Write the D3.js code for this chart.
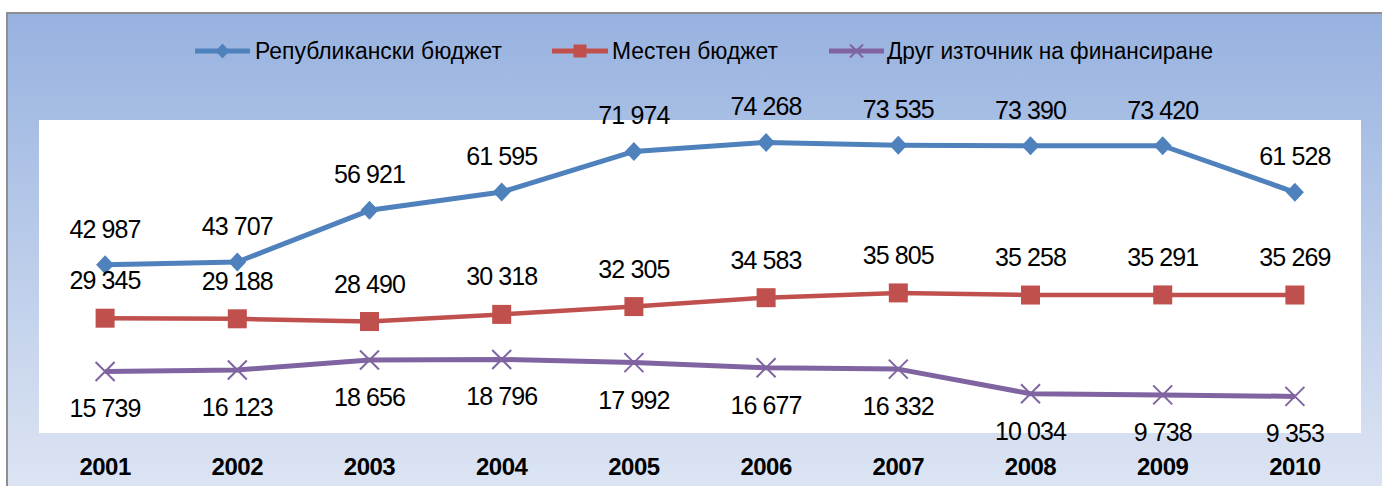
<!DOCTYPE html>
<html><head><meta charset="utf-8">
<script src="https://cdn.jsdelivr.net/npm/d3@7"></script>
<style>body{margin:0;background:#fff;} svg{display:block;font-family:Arial,"Liberation Sans",sans-serif;}</style>
</head><body>
<svg id="c" width="1382" height="486"></svg>
<script>
const years = ["2001","2002","2003","2004","2005","2006","2007","2008","2009","2010"];
const republican = [42987,43707,56921,61595,71974,74268,73535,73390,73420,61528];
const local = [29345,29188,28490,30318,32305,34583,35805,35258,35291,35269];
const other = [15739,16123,18656,18796,17992,16677,16332,10034,9738,9353];
const seriesNames = ["Републикански бюджет","Местен бюджет","Друг източник на финансиране"];
const colors = ["#4F81BD","#C0504D","#8064A2"];

const svg = d3.select("#c");
const defs = svg.append("defs");
const g = defs.append("linearGradient").attr("id","bg").attr("x1",0).attr("y1",0).attr("x2",0).attr("y2",1);
g.append("stop").attr("offset","0%").attr("stop-color","#97b2e0");
g.append("stop").attr("offset","50%").attr("stop-color","#bccdea");
g.append("stop").attr("offset","100%").attr("stop-color","#e0e7f4");

svg.append("rect").attr("x",7).attr("y",13).attr("width",1400).attr("height",500)
  .attr("fill","url(#bg)").attr("stroke","#8e8e8e").attr("stroke-width",2);

const plot = {left:39,right:1361,top:120,bottom:433};
svg.append("rect").attr("x",plot.left).attr("y",plot.top)
  .attr("width",plot.right-plot.left).attr("height",plot.bottom-plot.top).attr("fill","#fff");

const x = d3.scaleBand().domain(years).range([plot.left,plot.right]);
const y = d3.scaleLinear().domain([0,80000]).range([plot.bottom,plot.top]);
const cx = d => x(d)+x.bandwidth()/2;

const xa = svg.append("g").attr("transform",`translate(0,${plot.bottom})`)
  .call(d3.axisBottom(x).tickSize(0).tickPadding(0));
xa.select(".domain").remove();
xa.selectAll("text").attr("font-size",24).attr("font-weight","bold").attr("fill","#000")
  .attr("font-family","Arial,'Liberation Sans',sans-serif").attr("dy",null).attr("y",42)
  .style("letter-spacing","-0.5px");

const fmt = v => d3.format(",")(v).replace(/,/g," ");
const seriesData = [republican, local, other];
const labelOffsets = [-27,-29,46];
const lineWidths = [5,4.5,5];

const line = d3.line().x((d,i)=>cx(years[i])).y(d=>y(d));

function marker(sel, k, size){
  if(k===0){
    const w=size/2, h=size/2+0.5;
    sel.append("path").attr("d",`M0,${-h}L${w},0L0,${h}L${-w},0Z`).attr("fill",colors[0]);
  } else if(k===1){
    sel.append("rect").attr("x",-size/2).attr("y",-size/2).attr("width",size).attr("height",size).attr("fill",colors[1]);
  } else {
    const h=size/2;
    sel.append("path").attr("d",`M${-h},${-h}L${h},${h}M${-h},${h}L${h},${-h}`)
      .attr("stroke",colors[2]).attr("stroke-width",2).attr("fill","none");
  }
}

seriesData.forEach((vals,k)=>{
  svg.append("path").datum(vals).attr("d",line).attr("fill","none")
    .attr("stroke",colors[k]).attr("stroke-width",lineWidths[k]).attr("stroke-linejoin","round");
  vals.forEach((v,i)=>{
    const gm = svg.append("g").attr("transform",`translate(${cx(years[i])},${y(v)})`);
    marker(gm,k,k===0?18:19);
  });
});
seriesData.forEach((vals,k)=>{
  vals.forEach((v,i)=>{
    svg.append("text").attr("x",cx(years[i])).attr("y",y(v)+labelOffsets[k])
      .attr("text-anchor","middle").attr("font-size",25).attr("fill","#000")
      .style("letter-spacing","-0.9px").text(fmt(v));
  });
});

const legendItems = [
  {x1:195,x2:250,tx:255,tw:247},
  {x1:552,x2:608,tx:612,tw:166},
  {x1:829,x2:884,tx:887,tw:326}
];
legendItems.forEach((L,k)=>{
  const ly=51;
  svg.append("line").attr("x1",L.x1).attr("x2",L.x2).attr("y1",ly).attr("y2",ly)
    .attr("stroke",colors[k]).attr("stroke-width",5);
  const gm = svg.append("g").attr("transform",`translate(${(L.x1+L.x2)/2},${ly})`);
  marker(gm,k,k===0?14:13);
  svg.append("text").attr("x",L.tx).attr("y",59).attr("font-size",23).attr("fill","#000")
    .attr("textLength",L.tw).attr("lengthAdjust","spacingAndGlyphs").text(seriesNames[k]);
});
</script>
</body></html>
